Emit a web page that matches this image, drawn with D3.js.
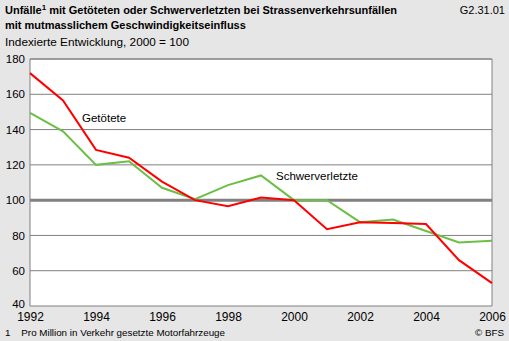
<!DOCTYPE html>
<html>
<head>
<meta charset="utf-8">
<script src="https://cdn.jsdelivr.net/npm/d3@7"></script>
<style>
  body { margin: 0; background: #e6e6e6; }
  svg { display: block; font-family: "Liberation Sans", Arial, sans-serif; }
</style>
</head>
<body>
<svg width="509" height="341"></svg>
<script>
const years = [1992, 1993, 1994, 1995, 1996, 1997, 1998, 1999, 2000, 2001, 2002, 2003, 2004, 2005, 2006];
const getoetete = [172, 156.5, 128.5, 124, 110.5, 100, 96.5, 101.5, 100, 83.5, 87.5, 87, 86.5, 66, 53];
const schwerverletzte = [149.5, 139, 120, 122, 107, 100.5, 108.5, 114, 100, 100, 87.5, 89, 82.5, 76, 77];
const yTicks = [40, 60, 80, 100, 120, 140, 160, 180];
const xTicks = [1992, 1994, 1996, 1998, 2000, 2002, 2004, 2006];

const svg = d3.select('svg');
const plotLeft = 30, plotRight = 492, plotTop = 59, plotBottom = 306;

const x = d3.scaleLinear().domain([1992, 2006]).range([plotLeft, plotRight]);
const y = d3.scaleLinear().domain([40, 180]).range([plotBottom, plotTop]);

// titles
svg.append('text').attr('x', 5).attr('y', 14)
    .style('font-size', '11px').style('font-weight', 'bold')
    .html('Unfälle<tspan dy="-4" font-size="8px">1</tspan><tspan dy="4"> mit Getöteten oder Schwerverletzten bei Strassenverkehrsunfällen</tspan>');
svg.append('text').attr('x', 5).attr('y', 29)
    .style('font-size', '11px').style('font-weight', 'bold')
    .text('mit mutmasslichem Geschwindigkeitseinfluss');
svg.append('text').attr('x', 505).attr('y', 14).attr('text-anchor', 'end')
    .style('font-size', '11px').text('G2.31.01');
svg.append('text').attr('x', 5).attr('y', 46)
    .style('font-size', '11.8px').text('Indexierte Entwicklung, 2000 = 100');

// plot area
svg.append('rect').attr('x', plotLeft).attr('y', plotTop)
    .attr('width', plotRight - plotLeft).attr('height', plotBottom - plotTop)
    .attr('fill', '#fff');

// gridlines
svg.append('g').selectAll('line').data(yTicks.filter(d => d !== 100 && d !== 40))
    .join('line')
    .attr('x1', plotLeft).attr('x2', plotRight)
    .attr('y1', d => y(d)).attr('y2', d => y(d))
    .attr('stroke', '#808080').attr('stroke-width', 1);

svg.append('line').attr('x1', plotLeft).attr('x2', plotRight)
    .attr('y1', y(100)).attr('y2', y(100))
    .attr('stroke', '#808080').attr('stroke-width', 3);

// frame
svg.append('path')
    .attr('d', `M${plotLeft},${plotBottom}V${plotTop}H${plotRight}V${plotBottom}H${plotLeft}`)
    .attr('fill', 'none').attr('stroke', '#808080').attr('stroke-width', 1);

// y axis labels
const yAxis = svg.append('g')
    .attr('transform', `translate(${plotLeft},0)`)
    .call(d3.axisLeft(y).tickValues(yTicks).tickSize(0).tickPadding(5));
yAxis.select('.domain').remove();
yAxis.selectAll('text').style('font-size', '11.5px').attr('fill', '#000')
    .attr('dy', d => d === 40 ? '0.15em' : '0.32em')
    .style('font-family', '"Liberation Sans", Arial, sans-serif');

// x axis labels
const xAxis = svg.append('g')
    .attr('transform', `translate(0,${plotBottom})`)
    .call(d3.axisBottom(x).tickValues(xTicks).tickFormat(d3.format('d')).tickSize(0).tickPadding(6.5));
xAxis.select('.domain').remove();
xAxis.selectAll('text').style('font-size', '12px').attr('fill', '#000')
    .style('font-family', '"Liberation Sans", Arial, sans-serif');

// lines
const line = d3.line().x((d, i) => x(years[i])).y(d => y(d));
svg.append('path').datum(schwerverletzte).attr('d', line)
    .attr('fill', 'none').attr('stroke', '#6cbf45').attr('stroke-width', 2);
svg.append('path').datum(getoetete).attr('d', line)
    .attr('fill', 'none').attr('stroke', '#ff0000').attr('stroke-width', 2);

// series labels
svg.append('text').attr('x', 82).attr('y', 122)
    .style('font-size', '11.5px').text('Getötete');
svg.append('text').attr('x', 276).attr('y', 180)
    .style('font-size', '11.5px').text('Schwerverletzte');

// footer
svg.append('text').attr('x', 5).attr('y', 336)
    .style('font-size', '9.8px').attr('xml:space', 'preserve')
    .text('1    Pro Million in Verkehr gesetzte Motorfahrzeuge');
svg.append('text').attr('x', 504).attr('y', 336).attr('text-anchor', 'end')
    .style('font-size', '9.8px').text('© BFS');
</script>
</body>
</html>
